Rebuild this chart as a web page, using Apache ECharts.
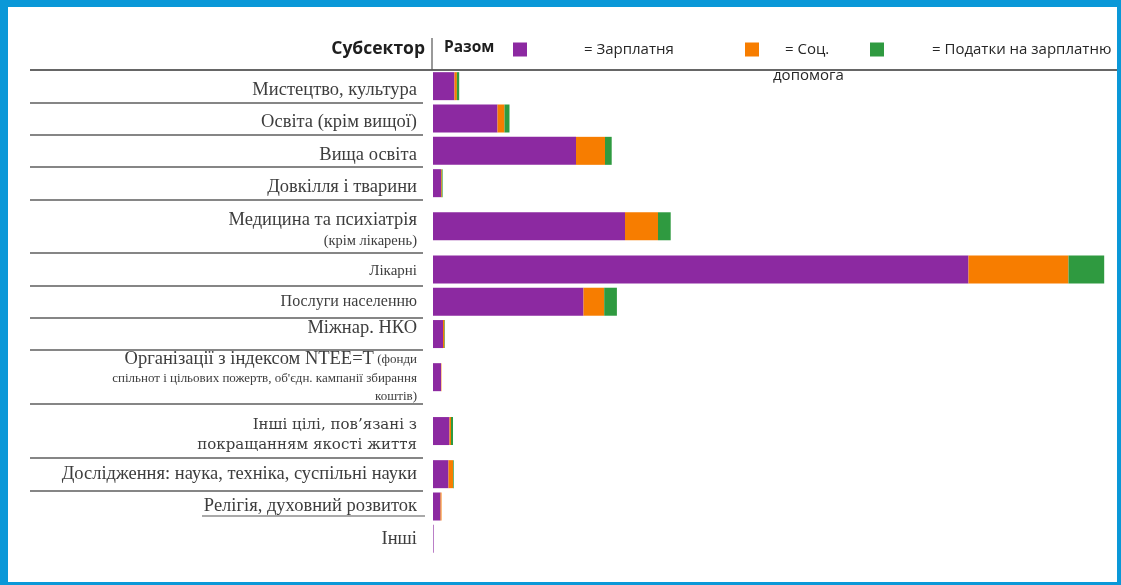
<!DOCTYPE html>
<html>
<head>
<meta charset="utf-8">
<script src="https://cdn.jsdelivr.net/npm/echarts@6/dist/echarts.min.js"></script>
<style>
html,body{margin:0;padding:0;background:#fff;}
#chart{position:absolute;left:0;top:0;width:1121px;height:585px;}
#frame{position:absolute;left:0;top:0;width:1121px;height:585px;box-sizing:border-box;border-style:solid;border-color:#0a98d8;border-width:7px 4px 3px 8px;pointer-events:none;}
</style>
</head>
<body>
<div id="chart"></div>
<div id="frame"></div>
<script>
// ---- data ----
const categories = [
  'Мистецтво, культура',
  'Освіта (крім вищої)',
  'Вища освіта',
  'Довкілля і тварини',
  'Медицина та психіатрія (крім лікарень)',
  'Лікарні',
  'Послуги населенню',
  'Міжнар. НКО',
  'Організації з індексом NTEE=T (фонди спільнот і цільових пожертв, об\'єдн. кампанії збирання коштів)',
  'Інші цілі, пов’язані з покращанням якості життя',
  'Дослідження: наука, техніка, суспільні науки',
  'Релігія, духовний розвиток',
  'Інші'
];
const wages    = [21.5, 64.5, 143, 8, 192, 535.5, 150.5, 10, 8, 16.5, 15.5, 7.5, 0.6];
const benefits = [2.4, 7, 29, 0.8, 33, 100, 20.7, 1.5, 0.4, 1.5, 4.5, 1, 0];
const taxes    = [2.3, 5, 6.7, 0.8, 12.7, 35.7, 12.7, 0.5, 0, 2, 0.7, 0, 0];
const seriesNames = ['Зарплатня', 'Соц. допомога', 'Податки на зарплатню'];

// ---- layout (row heights in slots) ----
const rowSpan = [3,3,3,3,5,3,3,3,5,5,3,3,3];
const labelText = [
  '{bd|Мистецтво, культура}',
  '{bd|Освіта (крім вищої)}',
  '{bd|Вища освіта}',
  '{bd|Довкілля і тварини}',
  '{sp| }\n{b|Медицина та психіатрія}\n{m|(крім лікарень)}',
  '{s|Лікарні}',
  '{p|Послуги населенню}',
  '{bu|Міжнар. НКО}',
  '{b|Організації з індексом NTEE=T} {t|(фонди}\n{t|спільнот і цільових пожертв, об\'єдн. кампанії збирання}\n{t|коштів)}',
  '{sp| }\n{w|Інші цілі, пов’язані з}\n{w|покращанням якості життя}',
  '{b|Дослідження: наука, техніка, суспільні науки}',
  '{b|Релігія, духовний розвиток}',
  '{b|Інші}'
];

const slots = [], barSlot = [], rowStart = [], slotLabel = {};
rowSpan.forEach((span, i) => {
  rowStart.push(slots.length);
  const c = slots.length + Math.floor(span / 2);
  barSlot.push(c);
  for (let k = 0; k < span; k++) slots.push('s' + slots.length);
  slotLabel[c] = labelText[i];
});
const sepSet = new Set(rowStart.filter((s, i) => i > 0 && i < rowStart.length - 1));
// separator colours: one per drawn line, the closing line at the bottom is transparent
const sepColors = Array.from(sepSet).map(() => '#5e5e5e').concat(['rgba(0,0,0,0)']);

function toSlots(arr) {
  const d = slots.map(() => '-');
  arr.forEach((v, i) => { d[barSlot[i]] = v; });
  return d;
}

const colors = ['#8c29a1', '#f77d00', '#2f9a40'];
const serif = 'Liberation Serif';
const sans = 'Open Sans';
const legText = { fontFamily: sans, fontSize: 15, color: '#262626' };
const lab = { fontFamily: serif, color: '#3d3d3d' };

const chart = echarts.init(document.getElementById('chart'));
chart.setOption({
  backgroundColor: '#ffffff',
  animation: false,
  color: colors,
  legend: [
    { data: [seriesNames[0]], left: 513, top: 42, padding: 0, itemWidth: 14, itemHeight: 14, icon: 'rect',
      formatter: () => '= Зарплатня',
      textStyle: Object.assign({}, legText, { padding: [0, 0, 0, 52] }) },
    { data: [seriesNames[1]], left: 745, top: 42, padding: 0, itemWidth: 14, itemHeight: 14, icon: 'rect',
      formatter: () => '{a|= Соц.}\n{c|допомога}',
      textStyle: Object.assign({}, legText, { padding: [26, 0, 0, 9],
        rich: { a: Object.assign({}, legText, { lineHeight: 26, padding: [0, 0, 0, 12] }),
                c: Object.assign({}, legText, { lineHeight: 26 }) } }) },
    { data: [seriesNames[2]], left: 870, top: 42, padding: 0, itemWidth: 14, itemHeight: 14, icon: 'rect',
      formatter: () => '= Податки на зарплатню',
      textStyle: Object.assign({}, legText, { padding: [0, 0, 0, 43] }) }
  ],
  grid: [
    { left: 433, top: 70, width: 680, height: 485, containLabel: false },
    { left: 30, top: 70, width: 393, height: 485, containLabel: false }
  ],
  xAxis: [
    { type: 'value', gridIndex: 0, min: 0, max: 680, show: false },
    { type: 'value', gridIndex: 1, min: 0, max: 1, show: false }
  ],
  yAxis: [
    { type: 'category', gridIndex: 0, data: slots, inverse: true,
      axisLine: { show: false }, axisTick: { show: false }, splitLine: { show: false },
      axisLabel: {
        interval: 0, margin: 16, align: 'right',
        formatter: (v, idx) => slotLabel[idx] || '',
        rich: {
          sp: Object.assign({}, lab, { fontSize: 2, lineHeight: 8 }),
          b:  Object.assign({}, lab, { fontSize: 18.5, lineHeight: 21 }),
          bd: Object.assign({}, lab, { fontSize: 18.5, lineHeight: 21, padding: [8, 0, 0, 0] }),
          bu: Object.assign({}, lab, { fontSize: 18.5, lineHeight: 21, padding: [0, 0, 12, 0] }),
          s:  Object.assign({}, lab, { fontSize: 15, lineHeight: 20, padding: [3, 0, 0, 0] }),
          p:  Object.assign({}, lab, { fontSize: 16, lineHeight: 20 }),
          m:  Object.assign({}, lab, { fontSize: 14.5, lineHeight: 21 }),
          t:  Object.assign({}, lab, { fontSize: 13, lineHeight: 18 }),
          w:  Object.assign({}, lab, { fontFamily: 'DejaVu Serif', fontSize: 15, lineHeight: 20 })
        }
      } },
    { type: 'category', gridIndex: 1, data: slots, inverse: true,
      axisLine: { show: false }, axisTick: { show: false }, axisLabel: { show: false },
      splitLine: { show: true, interval: (idx) => sepSet.has(idx),
        lineStyle: { color: sepColors, width: 1.5 } } }
  ],
  series: [
    { name: seriesNames[0], type: 'bar', stack: 'total', barWidth: 28, xAxisIndex: 0, yAxisIndex: 0, data: toSlots(wages) },
    { name: seriesNames[1], type: 'bar', stack: 'total', barWidth: 28, xAxisIndex: 0, yAxisIndex: 0, data: toSlots(benefits) },
    { name: seriesNames[2], type: 'bar', stack: 'total', barWidth: 28, xAxisIndex: 0, yAxisIndex: 0, data: toSlots(taxes) }
  ],
  graphic: [
    { type: 'line', shape: { x1: 30, y1: 70, x2: 1117, y2: 70 }, style: { stroke: '#666', lineWidth: 2 } },
    { type: 'line', shape: { x1: 432, y1: 38, x2: 432, y2: 70 }, style: { stroke: '#555', lineWidth: 1.2 } },
    { type: 'text', x: 425, y: 49, style: { text: 'Субсектор', fontFamily: sans, fontWeight: 'bold', fontSize: 17.5, fill: '#1e1e1e', textAlign: 'right', textVerticalAlign: 'middle' } },
    { type: 'text', x: 444, y: 48, style: { text: 'Разом', fontFamily: sans, fontWeight: 'bold', fontSize: 15.5, fill: '#1e1e1e', textAlign: 'left', textVerticalAlign: 'middle' } },
    { type: 'line', shape: { x1: 202, y1: 516, x2: 425, y2: 516 }, style: { stroke: '#555', lineWidth: 1.2 } }
  ]
});
</script>
</body>
</html>
